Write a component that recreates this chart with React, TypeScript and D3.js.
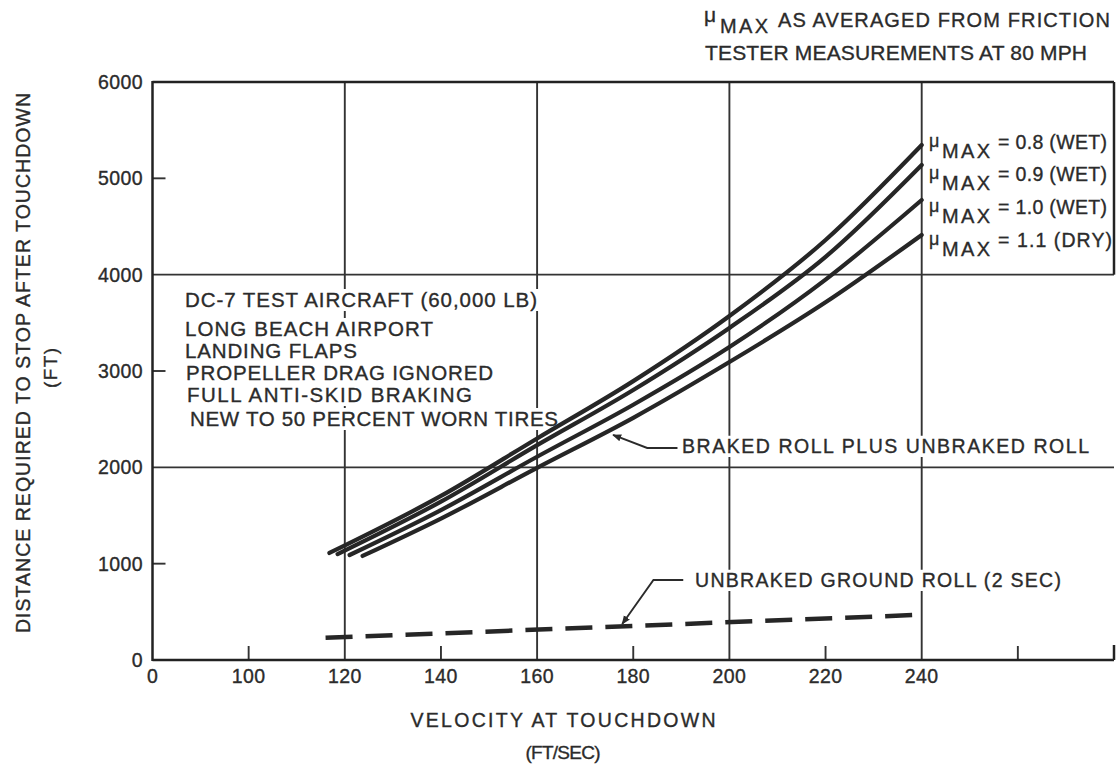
import React from "react";
import * as d3 from "d3";

// ---- data ----
const velocityTicks = [80, 100, 120, 140, 160, 180, 200, 220, 240, 260];
const velocityTickLabels = ["0", "100", "120", "140", "160", "180", "200", "220", "240", ""];
const velocityGrid = [120, 160, 200, 240];
const velocityMinor = [100, 140, 180, 220, 260];
const distanceTicks = [0, 1000, 2000, 3000, 4000, 5000, 6000];
const distanceGrid = [2000, 4000];
const distanceMinor = [1000, 3000, 5000];

const muLabels = ["= 0.8 (WET)", "= 0.9 (WET)", "= 1.0 (WET)", "= 1.1 (DRY)"];
const mu08: [number, number][] = [[116.8, 1111], [140, 1703], [160, 2300], [180, 2895], [200, 3571], [220, 4360], [240, 5346]];
const mu09: [number, number][] = [[118.5, 1100], [140, 1644], [160, 2230], [180, 2803], [200, 3447], [220, 4185], [240, 5139]];
const mu10: [number, number][] = [[121, 1090], [140, 1556], [160, 2110], [180, 2650], [200, 3249], [220, 3949], [240, 4775]];
const mu11: [number, number][] = [[123.7, 1080], [140, 1468], [160, 1995], [180, 2514], [200, 3093], [220, 3713], [240, 4412]];
const brakedCurves = [mu08, mu09, mu10, mu11];
const unbrakedRoll: [number, number][] = [[116, 230], [240, 470]];

const brakedLeader: [number, number][] = [[189.2, 2201], [182.9, 2201], [175.8, 2336]];
const groundLeader: [number, number][] = [[190.4, 830], [184.2, 830], [177.7, 374]];

const noteLines = [
  "DC-7 TEST AIRCRAFT  (60,000 LB)",
  "LONG BEACH  AIRPORT",
  "LANDING FLAPS",
  "PROPELLER DRAG IGNORED",
  "FULL ANTI-SKID BRAKING",
  "NEW TO 50 PERCENT WORN TIRES",
];

// ---- layout ----
const W = 1116;
const H = 764;
const FONT = "'Liberation Sans', Arial, Helvetica, sans-serif";
const INK = "#2b2b2b";
const noteX = [185, 185, 185, 186, 187, 190];
const noteBase = [307, 336, 358, 380, 402, 426];
const noteLen = [352, 248, 172, 307, 285, 368];
const muBase = [149, 181, 214, 247];

export default function App() {
  const x = d3.scaleLinear().domain([80, 280]).range([152.5, 1114]);
  const y = d3.scaleLinear().domain([0, 6000]).range([660, 82]);
  const line = d3
    .line<[number, number]>()
    .x((d) => x(d[0]))
    .y((d) => y(d[1]))
    .curve(d3.curveMonotoneX);
  const straight = d3
    .line<[number, number]>()
    .x((d) => x(d[0]))
    .y((d) => y(d[1]));

  const left = x(80);
  const right = x(280);
  const top = y(6000);
  const bottom = y(0);

  const knock = (xx: number, base: number, len: number, size = 20) => (
    <rect x={xx - 2} y={base - size * 0.75 - 3} width={len + 4} height={size * 0.75 + 7} fill="#fff" />
  );

  const txt = { fill: INK, stroke: INK, strokeWidth: 0.35 };

  return (
    <svg
      width={W}
      height={H}
      viewBox={`0 0 ${W} ${H}`}
      style={{ position: "absolute", left: 0, top: 0, background: "#fff", display: "block" }}
    >
      <defs>
        <marker id="arr" viewBox="0 0 10 10" refX="9" refY="5" markerWidth="9" markerHeight="9" markerUnits="userSpaceOnUse" orient="auto">
          <path d="M0,1 L10,5 L0,9 Z" fill={INK} />
        </marker>
      </defs>
      <rect x={0} y={0} width={W} height={H} fill="#fff" />

      {/* grid */}
      <g stroke="#333" strokeWidth={1.9} fill="none">
        {velocityGrid.map((v) => (
          <line key={"vg" + v} x1={x(v)} x2={x(v)} y1={bottom} y2={top} />
        ))}
        {distanceGrid.map((d) => (
          <line key={"dg" + d} x1={left} x2={right} y1={y(d)} y2={y(d)} />
        ))}
        {velocityMinor.map((v) => (
          <line key={"vm" + v} x1={x(v)} x2={x(v)} y1={bottom} y2={bottom - 14} />
        ))}
        {distanceMinor.map((d) => (
          <line key={"dm" + d} x1={left} x2={left + 13} y1={y(d)} y2={y(d)} />
        ))}
      </g>

      {/* frame */}
      <g stroke="#222" strokeWidth={2.5} fill="none">
        <line x1={left} x2={left} y1={top - 1} y2={bottom + 1} />
        <line x1={left} x2={right} y1={bottom} y2={bottom} />
        <line x1={left} x2={right} y1={top} y2={top} />
        <line x1={right} x2={right} y1={top} y2={y(4000)} />
        <line x1={right} x2={right} y1={bottom} y2={bottom - 15} />
      </g>

      {/* text knockouts (breaks in the grid behind labels) */}
      {noteLines.map((t, i) => (
        <g key={"k" + i}>{knock(noteX[i], noteBase[i], noteLen[i])}</g>
      ))}
      {knock(682, 453, 407, 19)}
      {knock(695, 587, 366, 19)}

      {/* tick labels */}
      <g fontFamily={FONT} fontSize={19.5} {...txt}>
        {velocityTicks.map((v, i) => (
          <text key={"xt" + v} x={x(v)} y={683} textAnchor="middle" letterSpacing={0.4}>
            {velocityTickLabels[i]}
          </text>
        ))}
        {distanceTicks.map((d) => (
          <text key={"yt" + d} x={143} y={y(d) + 7} textAnchor="end" letterSpacing={0.4}>
            {d}
          </text>
        ))}
      </g>

      {/* axis titles */}
      <g fontFamily={FONT} {...txt}>
        <text x={563} y={727} textAnchor="middle" fontSize={19.5} textLength={305} lengthAdjust="spacing">
          VELOCITY AT TOUCHDOWN
        </text>
        <text x={563} y={759} textAnchor="middle" fontSize={19} textLength={75} lengthAdjust="spacing">
          (FT/SEC)
        </text>
        <text
          transform="translate(30,363) rotate(-90)"
          textAnchor="middle"
          fontSize={19.5}
          textLength={540}
          lengthAdjust="spacing"
        >
          DISTANCE REQUIRED TO STOP AFTER TOUCHDOWN
        </text>
        <text transform="translate(57,368) rotate(-90)" textAnchor="middle" fontSize={19} textLength={40} lengthAdjust="spacing">
          (FT)
        </text>
      </g>

      {/* notes block */}
      <g fontFamily={FONT} fontSize={20.5} {...txt}>
        {noteLines.map((t, i) => (
          <text key={"n" + i} x={noteX[i]} y={noteBase[i]} textLength={noteLen[i]} lengthAdjust="spacing">
            {t}
          </text>
        ))}
      </g>

      {/* top-right note */}
      <g fontFamily={FONT} {...txt}>
        <text x={704} y={22} fontSize={21}>μ</text>
        <text x={720} y={33} fontSize={20} textLength={48} lengthAdjust="spacing">MAX</text>
        <text x={778} y={27} fontSize={20} textLength={332} lengthAdjust="spacing">
          AS AVERAGED FROM FRICTION
        </text>
        <text x={705} y={60} fontSize={21} textLength={382} lengthAdjust="spacing">
          TESTER MEASUREMENTS AT 80 MPH
        </text>
      </g>

      {/* mu labels */}
      <g fontFamily={FONT} {...txt}>
        {muLabels.map((t, i) => (
          <g key={"mu" + i}>
            <text x={929} y={muBase[i] - 2} fontSize={18}>μ</text>
            <text x={942} y={muBase[i] + 9} fontSize={20} textLength={48} lengthAdjust="spacing">MAX</text>
            <text x={998} y={muBase[i]} fontSize={19.5} textLength={i === 3 ? 114 : 109} lengthAdjust="spacing">
              {t}
            </text>
          </g>
        ))}
      </g>

      {/* annotations */}
      <g fontFamily={FONT} fontSize={19.5} {...txt}>
        <text x={682} y={453} textLength={407} lengthAdjust="spacing">BRAKED ROLL PLUS UNBRAKED ROLL</text>
        <text x={695} y={587} textLength={366} lengthAdjust="spacing">UNBRAKED GROUND ROLL (2 SEC)</text>
      </g>
      <path d={straight(brakedLeader) || ""} fill="none" stroke={INK} strokeWidth={1.9} markerEnd="url(#arr)" />
      <path d={straight(groundLeader) || ""} fill="none" stroke={INK} strokeWidth={1.9} markerEnd="url(#arr)" />

      {/* curves */}
      <g fill="none" stroke="#262626" strokeWidth={4.2} strokeLinecap="round">
        {brakedCurves.map((c, i) => (
          <path key={"c" + i} d={line(c) || ""} />
        ))}
      </g>
      <path
        d={straight(unbrakedRoll) || ""}
        fill="none"
        stroke="#262626"
        strokeWidth={4.5}
        strokeDasharray="27 13"
      />
    </svg>
  );
}
